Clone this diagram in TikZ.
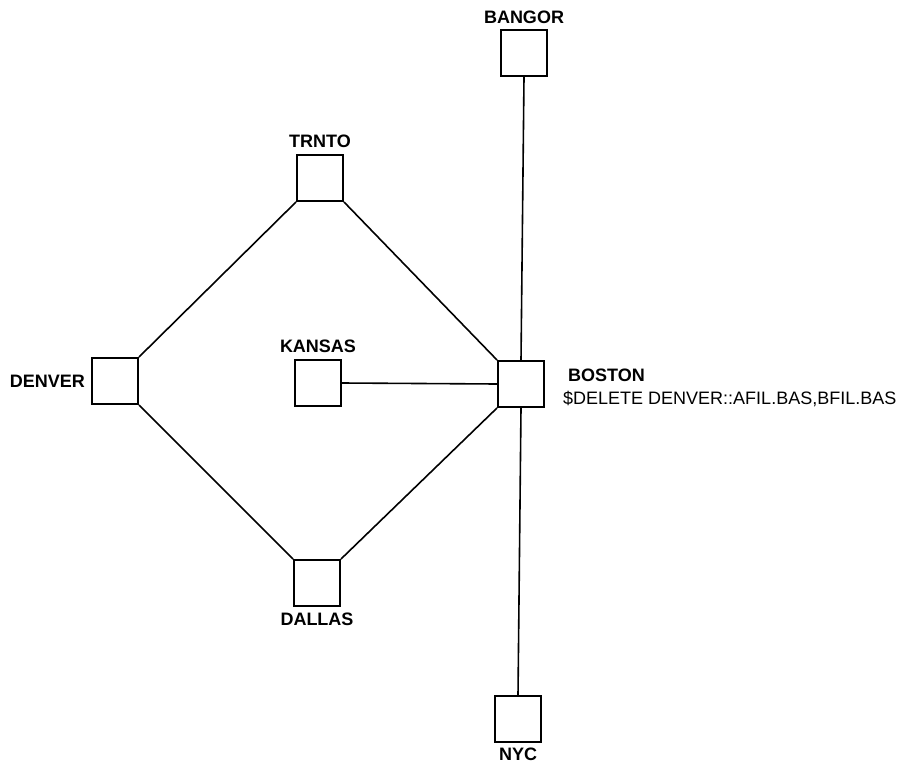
\documentclass[tikz,border=0pt]{standalone}
\usepackage{fontspec}
\setmainfont{Liberation Sans}

\begin{document}
\begin{tikzpicture}[x=1pt,y=-1pt,
        site/.style={draw,line width=2pt,minimum size=46pt,inner sep=0pt},
        link/.style={line width=1.6pt},
        lbl/.style={font=\fontsize{18}{20}\selectfont\bfseries,inner sep=0pt}]
        \useasboundingbox (0,0) rectangle (901,765);
        % sites
        \node[site] (bangor) at (524,53) {};
        \node[site] (trnto) at (320,178) {};
        \node[site] (denver) at (115,381) {};
        \node[site] (kansas) at (318,383) {};
        \node[site] (boston) at (521,384) {};
        \node[site] (dallas) at (317,583) {};
        \node[site] (nyc) at (518,719) {};
        % names
        \node[lbl,anchor=south] at ([yshift=5pt]bangor.north) {BANGOR};
        \node[lbl,anchor=south] at ([yshift=6pt]trnto.north) {TRNTO};
        \node[lbl,anchor=east] at ([xshift=-6pt]denver.west) {DENVER};
        \node[lbl,anchor=south] at ([yshift=6pt]kansas.north) {KANSAS};
        \node[lbl,anchor=north] at ([yshift=-6pt]dallas.south) {DALLAS};
        \node[lbl,anchor=north] at ([yshift=-5pt]nyc.south) {NYC};
        \node[lbl,anchor=south west] at (568,382) {BOSTON};
        \node[anchor=north west,inner sep=0pt,font=\fontsize{18}{20}\selectfont] at (563,391) {\$DELETE DENVER::AFIL.BAS,BFIL.BAS};
        % links
        \draw[link] (denver.north east) -- (trnto.south west);
        \draw[link] (trnto.south east) -- (boston.north west);
        \draw[link] (denver.south east) -- (dallas.north west);
        \draw[link] (dallas.north east) -- (boston.south west);
        \draw[link] (kansas.east) -- (boston.west);
        \draw[link] (bangor.south) -- (boston.north);
        \draw[link] (boston.south) -- (nyc.north);
    \end{tikzpicture}
\end{document}
